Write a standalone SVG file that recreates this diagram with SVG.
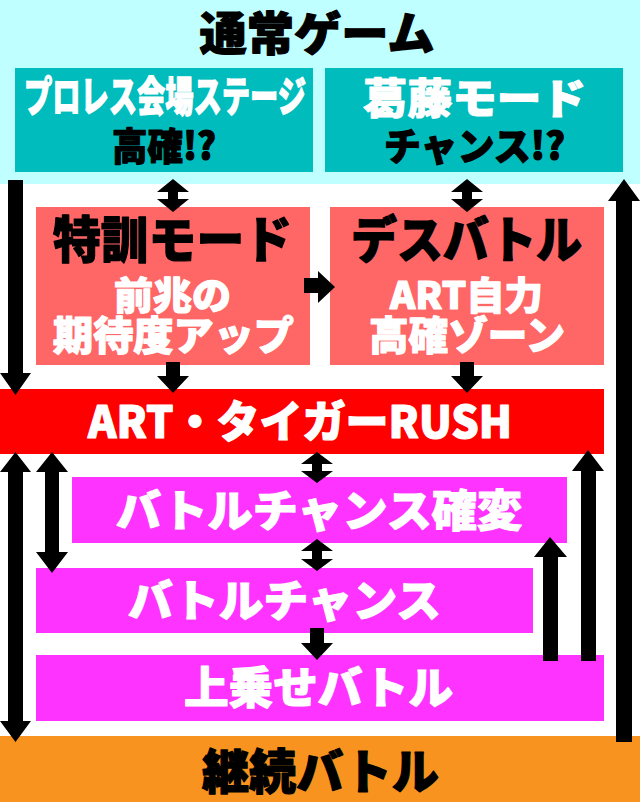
<svg xmlns="http://www.w3.org/2000/svg" width="640" height="802" viewBox="0 0 640 802">
<style>
.t{font-family:"Noto Sans CJK JP","Noto Sans CJK SC",sans-serif;font-weight:900;text-anchor:middle;stroke-width:1.2;stroke-linejoin:round}
.w{fill:#ffffff;stroke:#ffffff}
.k{fill:#000000;stroke:#000000}
.arr{fill:#000000}
</style>
<rect x="0" y="0" width="640" height="802" fill="#ffffff"/>
<g id="normal-game">
<rect x="0" y="0" width="640" height="184" fill="#c0ffff"/>
<text class="t k" x="317" y="50" font-size="46" textLength="235" lengthAdjust="spacingAndGlyphs">通常ゲーム</text>
</g>
<g id="prowres-stage">
<rect x="15" y="68" width="298" height="104" fill="#00bcbc"/>
<text class="t w" x="165" y="112" font-size="42" textLength="282" lengthAdjust="spacingAndGlyphs">プロレス会場ステージ</text>
<text class="t k" x="164" y="160" font-size="38" textLength="104" lengthAdjust="spacingAndGlyphs">高確!?</text>
</g>
<g id="katto-mode">
<rect x="325" y="68" width="298" height="104" fill="#00bcbc"/>
<text class="t w" x="474.5" y="114" font-size="42" textLength="223" lengthAdjust="spacingAndGlyphs">葛藤モード</text>
<text class="t k" x="474.5" y="160" font-size="38" textLength="181" lengthAdjust="spacingAndGlyphs">チャンス!?</text>
</g>
<g id="tokkun-mode">
<rect x="36" y="207" width="274" height="158" fill="#ff6666"/>
<text class="t k" x="172.5" y="258" font-size="50" textLength="239" lengthAdjust="spacingAndGlyphs">特訓モード</text>
<text class="t w" x="172.5" y="309" font-size="38" textLength="117" lengthAdjust="spacingAndGlyphs">前兆の</text>
<text class="t w" x="173.5" y="350" font-size="40" textLength="241" lengthAdjust="spacingAndGlyphs">期待度アップ</text>
</g>
<g id="death-battle">
<rect x="330" y="207" width="274" height="158" fill="#ff6666"/>
<text class="t k" x="466.5" y="258" font-size="50" textLength="231" lengthAdjust="spacingAndGlyphs">デスバトル</text>
<text class="t w" x="466.5" y="309" font-size="38" textLength="153" lengthAdjust="spacingAndGlyphs">ART自力</text>
<text class="t w" x="467" y="350" font-size="40" textLength="196" lengthAdjust="spacingAndGlyphs">高確ゾーン</text>
</g>
<g id="art-tiger-rush">
<rect x="0" y="389" width="604" height="65" fill="#ff0000"/>
<text class="t w" x="300" y="438" font-size="44" textLength="424" lengthAdjust="spacingAndGlyphs">ART・タイガーRUSH</text>
</g>
<g id="battle-chance-kakuhen">
<rect x="72" y="477" width="495" height="66" fill="#ff33ff"/>
<text class="t w" x="319" y="527" font-size="44" textLength="406" lengthAdjust="spacingAndGlyphs">バトルチャンス確変</text>
</g>
<g id="battle-chance">
<rect x="36" y="568" width="497" height="65" fill="#ff33ff"/>
<text class="t w" x="284.5" y="617" font-size="44" textLength="313" lengthAdjust="spacingAndGlyphs">バトルチャンス</text>
</g>
<g id="uwanose-battle">
<rect x="36" y="655" width="568" height="66" fill="#ff33ff"/>
<text class="t w" x="318.5" y="704" font-size="44" textLength="269" lengthAdjust="spacingAndGlyphs">上乗せバトル</text>
</g>
<g id="keizoku-battle">
<rect x="0" y="736" width="640" height="66" fill="#f7931e"/>
<text class="t k" x="320.5" y="789" font-size="48" textLength="237" lengthAdjust="spacingAndGlyphs">継続バトル</text>
</g>
<g id="connectors" class="arr">
<polygon points="8,180 23,180 23,373 31,373 15.5,395 0,373 8,373"/>
<polygon points="173,179 189,192 178,192 178,199 189,199 173,212 157,199 168,199 168,192 157,192"/>
<polygon points="467,179 483,192 472,192 472,199 483,199 467,212 451,199 462,199 462,192 451,192"/>
<polygon points="304,278 318,278 318,271 335,287 318,303 318,293 304,293"/>
<polygon points="166,362 180,362 180,376 189,376 173,393 157,376 166,376"/>
<polygon points="460,362 474,362 474,376 483,376 467,393 451,376 460,376"/>
<polygon points="624,179 640,201 632,201 632,742 616,742 616,201 608,201"/>
<polygon points="15.5,452 31,472 23,472 23,721 31,721 15.5,742 0,721 8,721 8,472 0,472"/>
<polygon points="52,452 68,472 59,472 59,552 68,552 52,573 36,552 45,552 45,472 36,472"/>
<polygon points="317,452 333,464 322,464 322,471 333,471 317,483 301,471 312,471 312,464 301,464"/>
<polygon points="317,539 333,551 322,551 322,559 333,559 317,571 301,559 312,559 312,551 301,551"/>
<polygon points="310,628 324,628 324,643 333,643 317,660 301,643 310,643"/>
<polygon points="550,537 567,557 558,557 558,661 543,661 543,557 534,557"/>
<polygon points="588,450 604,471 596,471 596,661 581,661 581,471 572,471"/>
</g>
</svg>
